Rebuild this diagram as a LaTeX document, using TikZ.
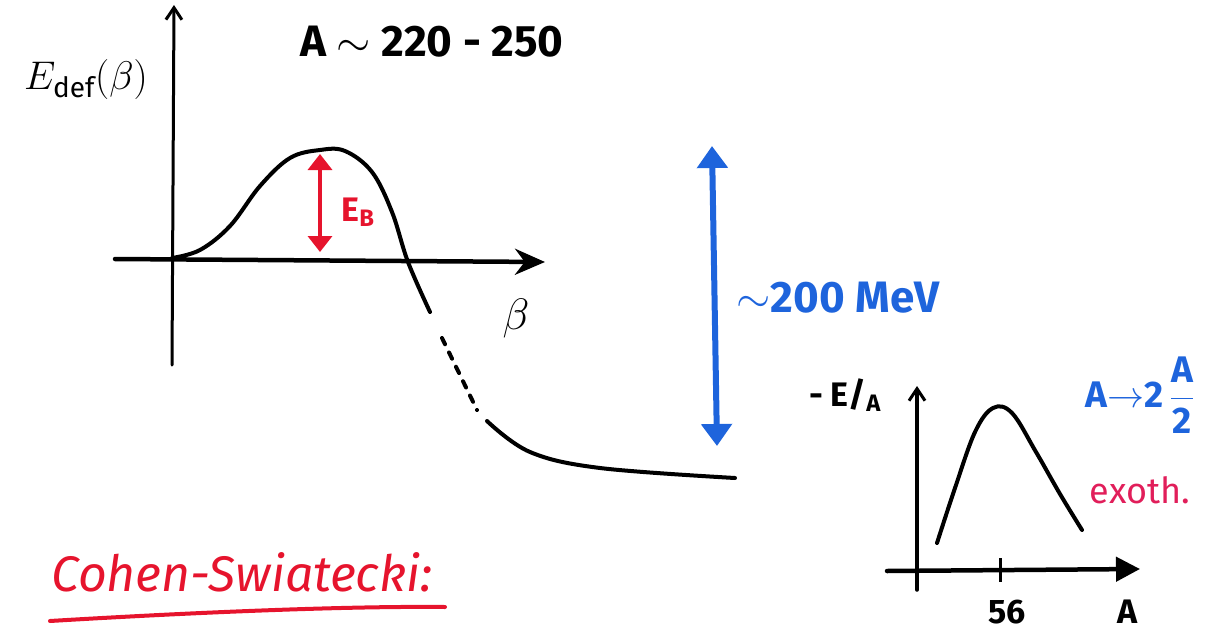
\RequirePackage{fix-cm}
\documentclass[tikz,border=0pt]{standalone}
\usepackage{amsmath, amssymb}
\usepackage{fontspec}
\setmainfont{Fira Sans}
\usepackage{tikz}
\usetikzlibrary{arrows.meta, positioning, calc}
\definecolor{inkblue}{RGB}{30,100,220}
\definecolor{inkred}{RGB}{230,20,45}
\definecolor{inkpink}{RGB}{225,30,90}
\tikzset{
    hand/.style  = {font=\fontsize{44}{48}\selectfont\bfseries, inner sep=0pt},
    small/.style = {font=\fontsize{34}{38}\selectfont\bfseries, inner sep=0pt},
    axis/.style  = {line width=4.5pt, line cap=round},
    curve/.style = {line width=4pt, line cap=round},
    barrier/.style = {line width=3.5pt, draw=inkred, {Triangle[length=16pt,width=24pt]}-{Triangle[length=16pt,width=24pt]}},
    gain/.style  = {line width=6pt, draw=inkblue, {Triangle[length=22pt,width=30pt]}-{Triangle[length=22pt,width=30pt]}}
}

\begin{document}
\begin{tikzpicture}[x=1pt, y=-1pt]
        \useasboundingbox (0,0) rectangle (1215,634);

        % Main plot: deformation energy
        \coordinate (yorig) at (172,365);
        \coordinate (ytop) at (174,5);
        \coordinate (xorig) at (115,259);
        \coordinate (xend) at (545,262);
        \draw [axis, line width=3pt, -{Straight Barb[length=12pt,width=16pt,line width=3pt]}] (yorig) -- (ytop);
        \draw [axis, -{Stealth[length=30pt,width=26pt]}] (xorig) -- (xend);

        \node (edef) [hand, font=\fontsize{40}{44}\selectfont] at (86,80) {$E_{\mathrm{def}}(\beta)$};
        \node (mass) [hand] at (432,42) {A $\sim$ 220 - 250};
        \node (beta) [hand] at (516,318) {$\beta$};

        % Fission barrier curve
        \draw [curve] plot [smooth, tension=0.6] coordinates {(172,258) (200,250) (230,226) (260,186) (290,158) (320,150) (345,151) (372,172) (392,212) (408,262) (430,312)};
        \draw [curve, dash pattern=on 7pt off 9pt] (442,338) -- (477,410);
        \draw [curve] plot [smooth, tension=0.6] coordinates {(487,421) (530,452) (600,468) (735,478)};

        % Barrier height E_B
        \coordinate (btop) at (320,154);
        \coordinate (bbot) at (320,252);
        \draw [barrier] (bbot) -- (btop);
        \node (eb) [small] at (358,212) {\textcolor{inkred}{E$_{\text{B}}$}};

        % Energy release
        \coordinate (qtop) at (712,146);
        \coordinate (qbot) at (717,446);
        \draw [gain] (qbot) -- (qtop);
        \node (release) [hand, text=inkblue] at (838,298) {$\sim$200 MeV};

        % Inset: binding energy per nucleon
        \coordinate (iorig) at (917,590);
        \coordinate (itop) at (917,386);
        \coordinate (ileft) at (887,571);
        \coordinate (iend) at (1140,569);
        \draw [axis, line width=3.5pt, -{Straight Barb[length=12pt,width=16pt,line width=3pt]}] (iorig) -- (itop);
        \draw [axis, -{Triangle[length=24pt,width=24pt]}] (ileft) -- (iend);
        \draw [line width=3pt] (1000,558) -- (1000,582);
        \draw [curve] plot [smooth, tension=0.6] coordinates {(937,543) (955,488) (975,432) (993,408) (1012,413) (1036,452) (1060,494) (1082,530)};

        \node (ea) [small] at (845,395) {- E/$_{\text{A}}$};
        \node (fe) [small] at (1007,612) {56};
        \node (anum) [small] at (1128,612) {A};
        \node (split) [small, font=\fontsize{37}{40}\selectfont\bfseries, text=inkblue] at (1140,395) {A$\to$2$\,\dfrac{\text{A}}{\text{2}}$};
        \node (exo) [font=\fontsize{36}{40}\selectfont, inner sep=0pt, text=inkpink] at (1140,490) {exoth.};

        % Title
        \node (title) [font=\fontsize{50}{54}\selectfont\itshape, inner sep=0pt, text=inkred] at (242,572) {Cohen-Swiatecki:};
        \draw [line width=4pt, draw=inkred, line cap=round] (50,621) .. controls (200,612) and (350,606) .. (445,607);
\end{tikzpicture}
\end{document}
